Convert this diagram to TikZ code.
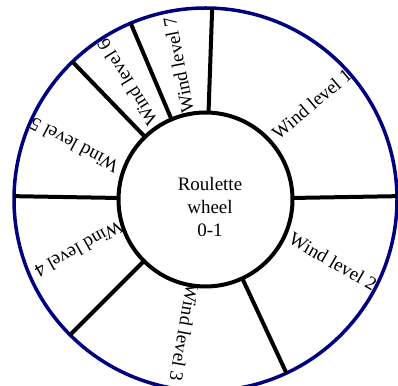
\documentclass[tikz,border=0pt]{standalone}
\usepackage{fontspec}
\setmainfont{Liberation Serif}
\usepackage{tikz}
\usetikzlibrary{positioning}
\definecolor{rimblue}{RGB}{0,0,128}

\begin{document}
\begin{tikzpicture}[
  x=1pt, y=1pt,
  ring/.style={
    circle, draw, inner sep=0pt, outer sep=0pt
  },
  lbl/.style={font=\fontsize{19}{23}\selectfont, inner sep=0pt},
  spoke/.style={line width=4pt, black}
]
\useasboundingbox (0,0) rectangle (398,385);
\clip (0,0) rectangle (398,385);

\node[ring, draw=rimblue, line width=3.5pt, minimum size=383pt] (rim)
  at (205.5,185.5) {};
\node[ring, line width=4pt, minimum size=174pt] (wheel)
  at (205.5,185.5) {};

\draw[spoke] (wheel.88)     -- (rim.88);
\draw[spoke] (wheel.1)      -- (rim.1);
\draw[spoke] (wheel.-65.5)  -- (rim.-65.5);
\draw[spoke] (wheel.-135.2) -- (rim.-135.2);
\draw[spoke] (wheel.179.4)  -- (rim.179.4);
\draw[spoke] (wheel.134.8)  -- (rim.134.8);
\draw[spoke] (wheel.113)    -- (rim.113);

\node[lbl, align=center] (hub) at (210,178)
  {Roulette\\wheel\\0-1};

\node[lbl, rotate=40]    (w1) at ([shift={(42:143)}]wheel.center)
  {Wind level 1};
\node[lbl, rotate=-30]   (w2) at ([shift={(-26:142)}]wheel.center)
  {Wind level 2};
\node[lbl, rotate=-100]  (w3) at ([shift={(-99:135)}]wheel.center)
  {Wind level 3};
\node[lbl, rotate=209]   (w4) at ([shift={(201.5:136)}]wheel.center)
  {Wind level 4};
\node[lbl, rotate=152]   (w5) at ([shift={(157.6:142)}]wheel.center)
  {Wind level 5};
\node[lbl, rotate=121.6] (w6) at ([shift={(123.7:141)}]wheel.center)
  {Wind level 6};
\node[lbl, rotate=101]   (w7) at ([shift={(101.4:137)}]wheel.center)
  {Wind level 7};

\end{tikzpicture}
\end{document}
